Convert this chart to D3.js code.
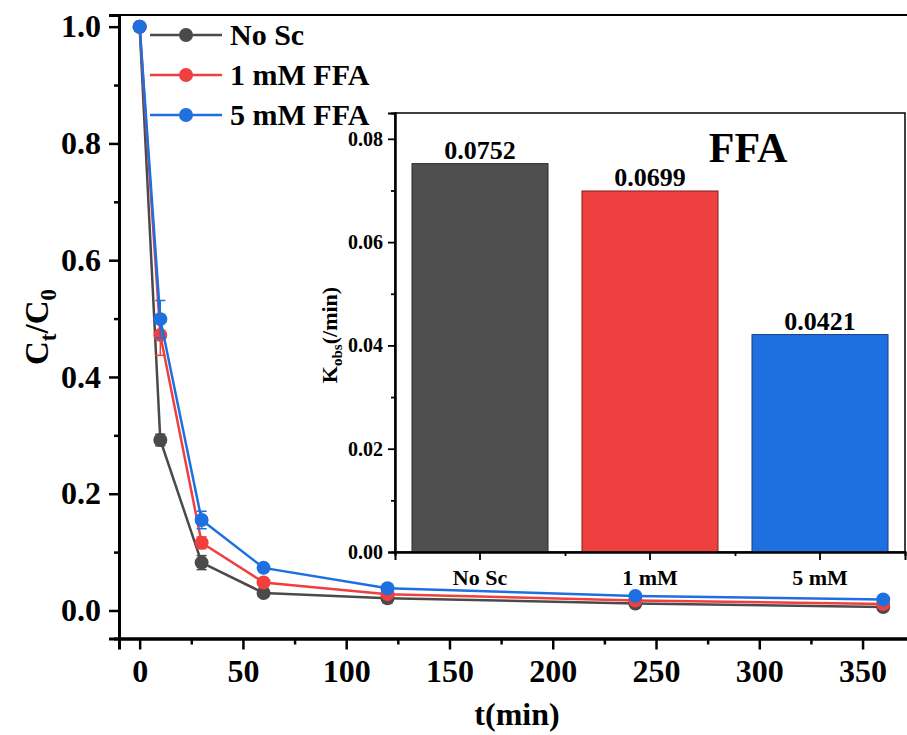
<!DOCTYPE html>
<html>
<head>
<meta charset="utf-8">
<script src="https://cdn.jsdelivr.net/npm/d3@7"></script>
<style>
  body { margin: 0; background: #fff; }
  svg { font-family: "Liberation Serif", "Times New Roman", serif; font-weight: bold; }
</style>
</head>
<body>
<svg id="chart" width="907" height="735"></svg>
<script>
// time points (min)
const times = [0, 10, 30, 60, 120, 240, 360];

// Ct/C0 for each condition
const noSc   = [1.0, 0.292, 0.082, 0.030, 0.021, 0.012, 0.006];
const ffa1   = [1.0, 0.472, 0.116, 0.048, 0.028, 0.017, 0.011];
const ffa5   = [1.0, 0.499, 0.155, 0.073, 0.038, 0.025, 0.019];

// error bars (+/-)
const noScErr = [0, 0.010, 0.012, 0.005, 0.008, 0.006, 0.005];
const ffa1Err = [0, 0.035, 0.010, 0.005, 0.005, 0.005, 0.005];
const ffa5Err = [0, 0.032, 0.015, 0.006, 0.005, 0.004, 0.004];

const seriesNames = ['No Sc', '1 mM FFA', '5 mM FFA'];
const seriesColors = ['#4a4a4a', '#ef3f3f', '#1e6fdf'];

// inset bar chart
const barCats = ['No Sc', '1 mM', '5 mM'];
const kobs = [0.0752, 0.0699, 0.0421];
const barFill = ['#4f4f4f', '#ef4040', '#1e6fdf'];
const barStroke = ['#2a2a2a', '#7a2020', '#17407a'];

const yTicks = [0, 0.2, 0.4, 0.6, 0.8, 1.0];
const yMinor = [0.1, 0.3, 0.5, 0.7, 0.9];
const xTicks = [0, 50, 100, 150, 200, 250, 300, 350];
const xMinor = [25, 75, 125, 175, 225, 275, 325];
const kTicks = [0, 0.02, 0.04, 0.06, 0.08];
const kMinor = [0.01, 0.03, 0.05, 0.07];

const svg = d3.select('#chart');

// main plot box
const pLeft = 119, pRight = 908, pTop = 15, pBottom = 638.5;

const x = d3.scaleLinear().domain([-10, 372]).range([pLeft, pRight]);
const y = d3.scaleLinear().domain([-0.048, 1.02]).range([pBottom, pTop]);

// frame (top line)
svg.append('line')
    .attr('x1', pLeft).attr('x2', pRight)
    .attr('y1', pTop).attr('y2', pTop)
    .attr('stroke', '#000').attr('stroke-width', 2);

// y axis
svg.append('g')
    .attr('transform', `translate(${pLeft},0)`)
    .call(d3.axisLeft(y).tickValues(yTicks).tickFormat(d3.format('.1f')).tickSize(10).tickPadding(8));
svg.append('g')
    .attr('transform', `translate(${pLeft},0)`)
    .call(d3.axisLeft(y).tickValues(yMinor).tickFormat('').tickSize(5));

// x axis
svg.append('g')
    .attr('transform', `translate(0,${pBottom})`)
    .call(d3.axisBottom(x).tickValues(xTicks).tickSize(11).tickPadding(10));
svg.append('g')
    .attr('transform', `translate(0,${pBottom})`)
    .call(d3.axisBottom(x).tickValues(xMinor).tickFormat('').tickSize(6));

svg.selectAll('.domain').attr('stroke', '#000').attr('stroke-width', 3);
svg.selectAll('.tick line').attr('stroke', '#000').attr('stroke-width', 2.5);
svg.selectAll('.tick text')
    .attr('font-size', 32)
    .attr('font-family', '"Liberation Serif", serif')
    .attr('font-weight', 'bold')
    .attr('fill', '#000');

// axis titles
const yTitle = svg.append('text')
    .attr('transform', 'translate(48,327) rotate(-90)')
    .attr('text-anchor', 'middle')
    .attr('font-size', 33);
yTitle.append('tspan').text('C');
yTitle.append('tspan').text('t').attr('font-size', 23).attr('dy', 8);
yTitle.append('tspan').text('/C').attr('dy', -8);
yTitle.append('tspan').text('0').attr('font-size', 23).attr('dy', 8);

svg.append('text')
    .attr('x', 517).attr('y', 725)
    .attr('text-anchor', 'middle')
    .attr('font-size', 32)
    .text('t(min)');

// inset
const iLeft = 395, iRight = 905, iTop = 113, iBottom = 552;
const ky = d3.scaleLinear().domain([0, 0.085]).range([iBottom, iTop]);
const kx = d3.scaleBand().domain(barCats).range([iLeft, iRight]).paddingInner(0.2).paddingOuter(0.1);

const inset = svg.append('g');
inset.append('rect')
    .attr('x', iLeft).attr('y', iTop)
    .attr('width', iRight - iLeft).attr('height', iBottom - iTop)
    .attr('fill', '#fff').attr('stroke', '#000').attr('stroke-width', 1.5);

inset.selectAll('rect.bar')
    .data(kobs)
    .enter().append('rect')
    .attr('class', 'bar')
    .attr('x', (d, i) => kx(barCats[i]))
    .attr('width', kx.bandwidth())
    .attr('y', d => ky(d))
    .attr('height', d => ky(0) - ky(d))
    .attr('fill', (d, i) => barFill[i])
    .attr('stroke', (d, i) => barStroke[i])
    .attr('stroke-width', 1);

inset.selectAll('text.val')
    .data(kobs)
    .enter().append('text')
    .attr('class', 'val')
    .attr('x', (d, i) => kx(barCats[i]) + kx.bandwidth() / 2)
    .attr('y', d => ky(d) - 5)
    .attr('text-anchor', 'middle')
    .attr('font-size', 26)
    .text(d => d.toFixed(4));

inset.append('text')
    .attr('x', 748).attr('y', 162)
    .attr('text-anchor', 'middle')
    .attr('font-size', 42)
    .text('FFA');

const kyAxis = inset.append('g')
    .attr('transform', `translate(${iLeft},0)`)
    .call(d3.axisLeft(ky).tickValues(kTicks).tickFormat(d3.format('.2f')).tickSize(7).tickPadding(5));
inset.append('g')
    .attr('transform', `translate(${iLeft},0)`)
    .call(d3.axisLeft(ky).tickValues(kMinor).tickFormat('').tickSize(4));

// band boundaries for minor x ticks
const kBounds = barCats.slice(1).map(c => kx(c) - kx.step() * kx.paddingInner() / 2);
const kxAxis = inset.append('g')
    .attr('transform', `translate(0,${iBottom})`)
    .call(d3.axisBottom(kx).tickSize(8).tickPadding(9));
inset.append('g')
    .attr('transform', `translate(0,${iBottom})`)
    .call(d3.axisBottom(d3.scaleLinear().domain([iLeft, iRight]).range([iLeft, iRight]))
        .tickValues(kBounds).tickFormat('').tickSize(4));

inset.selectAll('.domain').attr('stroke', '#000').attr('stroke-width', 2);
inset.selectAll('.tick line').attr('stroke', '#000').attr('stroke-width', 1.8);
kyAxis.selectAll('.tick text').attr('font-size', 20).attr('fill', '#000')
    .attr('font-family', '"Liberation Serif", serif').attr('font-weight', 'bold');
kxAxis.selectAll('.tick text').attr('font-size', 22).attr('fill', '#000')
    .attr('font-family', '"Liberation Serif", serif').attr('font-weight', 'bold');

const kTitle = inset.append('text')
    .attr('transform', 'translate(337,335) rotate(-90)')
    .attr('text-anchor', 'middle')
    .attr('font-size', 22);
kTitle.append('tspan').text('K');
kTitle.append('tspan').text('obs').attr('font-size', 15).attr('dy', 5);
kTitle.append('tspan').text('(/min)').attr('dy', -5);

// data series
const allData = [noSc, ffa1, ffa5];
const allErr = [noScErr, ffa1Err, ffa5Err];
const line = d3.line().x(d => x(d.t)).y(d => y(d.v));

allData.forEach((vals, s) => {
    const pts = times.map((t, i) => ({ t: t, v: vals[i], e: allErr[s][i] }));
    const g = svg.append('g');
    g.append('path')
        .datum(pts)
        .attr('d', line)
        .attr('fill', 'none')
        .attr('stroke', seriesColors[s])
        .attr('stroke-width', 2.5);
    const eb = g.selectAll('g.err').data(pts.filter(d => d.e > 0)).enter().append('g');
    eb.append('line')
        .attr('x1', d => x(d.t)).attr('x2', d => x(d.t))
        .attr('y1', d => y(d.v - d.e)).attr('y2', d => y(d.v + d.e))
        .attr('stroke', seriesColors[s]).attr('stroke-width', 1.5);
    eb.append('line')
        .attr('x1', d => x(d.t) - 5).attr('x2', d => x(d.t) + 5)
        .attr('y1', d => y(d.v + d.e)).attr('y2', d => y(d.v + d.e))
        .attr('stroke', seriesColors[s]).attr('stroke-width', 1.5);
    eb.append('line')
        .attr('x1', d => x(d.t) - 5).attr('x2', d => x(d.t) + 5)
        .attr('y1', d => y(d.v - d.e)).attr('y2', d => y(d.v - d.e))
        .attr('stroke', seriesColors[s]).attr('stroke-width', 1.5);
    g.selectAll('circle')
        .data(pts)
        .enter().append('circle')
        .attr('cx', d => x(d.t))
        .attr('cy', d => y(d.v))
        .attr('r', 7)
        .attr('fill', seriesColors[s]);
});

// legend
const legendY = [35, 75, 115];
seriesNames.forEach((name, i) => {
    const lg = svg.append('g').attr('transform', `translate(0,${legendY[i]})`);
    lg.append('line')
        .attr('x1', 150).attr('x2', 222)
        .attr('stroke', seriesColors[i]).attr('stroke-width', 2.5);
    lg.append('circle').attr('cx', 186).attr('r', 7).attr('fill', seriesColors[i]);
    lg.append('text')
        .attr('x', 230).attr('y', 10)
        .attr('font-size', 30)
        .text(name);
});
</script>
</body>
</html>
